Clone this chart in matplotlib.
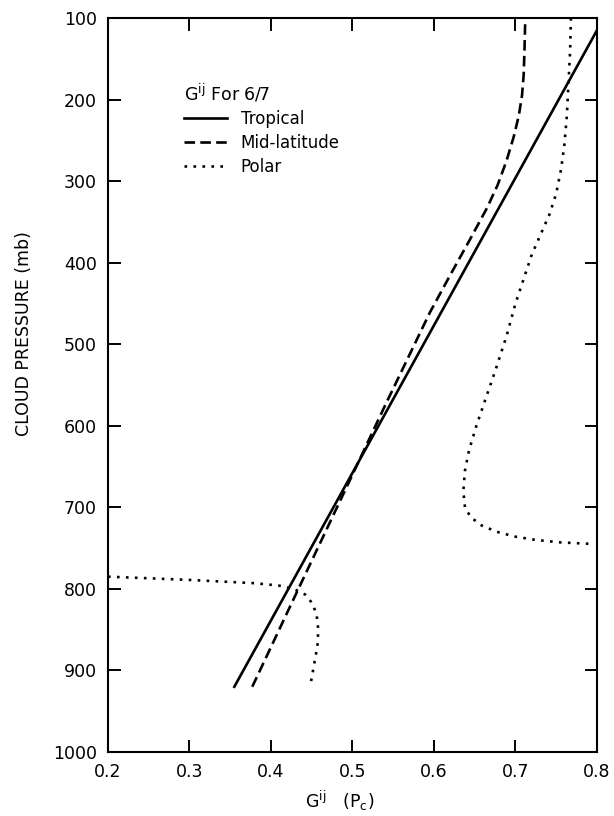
import numpy as np
import matplotlib.pyplot as plt

plt.rcParams['font.family'] = 'DejaVu Sans'
plt.rcParams['mathtext.default'] = 'regular'

# Tropical (solid)
trop_g = [0.355, 0.800]
trop_p = [920, 115]

# Mid-latitude (dashed)
mid_g = [0.377, 0.427, 0.499, 0.540, 0.595, 0.620, 0.645, 0.665, 0.678, 0.689,
         0.698, 0.704, 0.708, 0.710, 0.711, 0.712]
mid_p = [920, 814, 662, 575, 461, 415, 370, 333, 305, 275,
         245, 220, 195, 170, 140, 100]

# Polar (dotted), upper branch
polA_g = [0.768, 0.767, 0.765, 0.763, 0.760, 0.756, 0.750, 0.742, 0.731, 0.720,
          0.710, 0.700, 0.689, 0.676, 0.664, 0.652, 0.643, 0.638, 0.636, 0.638,
          0.645, 0.658, 0.677, 0.700, 0.725, 0.755, 0.797]
polA_p = [100, 140, 180, 220, 255, 285, 315, 340, 365, 390,
          420, 450, 490, 530, 565, 600, 630, 655, 680, 700,
          712, 722, 730, 736, 740, 743, 745]
# Polar (dotted), lower branch
polB_g = [0.200, 0.300, 0.380, 0.410, 0.428, 0.442, 0.451, 0.456, 0.458, 0.457, 0.453, 0.448]
polB_p = [785, 789, 793, 796, 800, 807, 818, 832, 850, 870, 892, 920]

xticks = [0.2, 0.3, 0.4, 0.5, 0.6, 0.7, 0.8]
yticks = [100, 200, 300, 400, 500, 600, 700, 800, 900, 1000]

fig = plt.figure(figsize=(6.14, 8.16), dpi=100)
ax = fig.add_axes([108/614, 1-752/816, 489/614, 734/816])

lw = 1.9
dots = (0, (1, 2.4))
ax.plot(trop_g, trop_p, color='black', lw=lw, ls='-', label='Tropical')
ax.plot(mid_g, mid_p, color='black', lw=lw, ls=(0, (4, 2)), label='Mid-latitude')
ax.plot(polA_g, polA_p, color='black', lw=lw, ls=dots, label='Polar')
ax.plot(polB_g, polB_p, color='black', lw=lw, ls=dots)

ax.set_xlim(0.2, 0.8)
ax.set_ylim(1000, 100)
ax.set_xticks(xticks)
ax.set_yticks(yticks)
ax.set_xticklabels([f'{v:.1f}' for v in xticks])
ax.set_yticklabels([str(v) for v in yticks])
ax.tick_params(direction='in', length=9, width=1.4, labelsize=12.5,
               top=True, right=True, pad=8)
for s in ax.spines.values():
    s.set_linewidth(1.5)

ax.set_ylabel('CLOUD PRESSURE (mb)', fontsize=12.5)
ax.yaxis.set_label_coords(-0.153, 0.57)
ax.set_xlabel('G$^{ij}$   (P$_c$)', fontsize=12.5)
ax.xaxis.set_label_coords(0.474, -0.05)

leg = ax.legend(title='G$^{ij}$ For 6/7', loc='upper left',
                bbox_to_anchor=(0.125, 0.933), frameon=False,
                fontsize=12, title_fontsize=12.5, handlelength=2.6,
                handletextpad=0.8, labelspacing=0.35, alignment='left')

fig.savefig('out.png', dpi=100)
